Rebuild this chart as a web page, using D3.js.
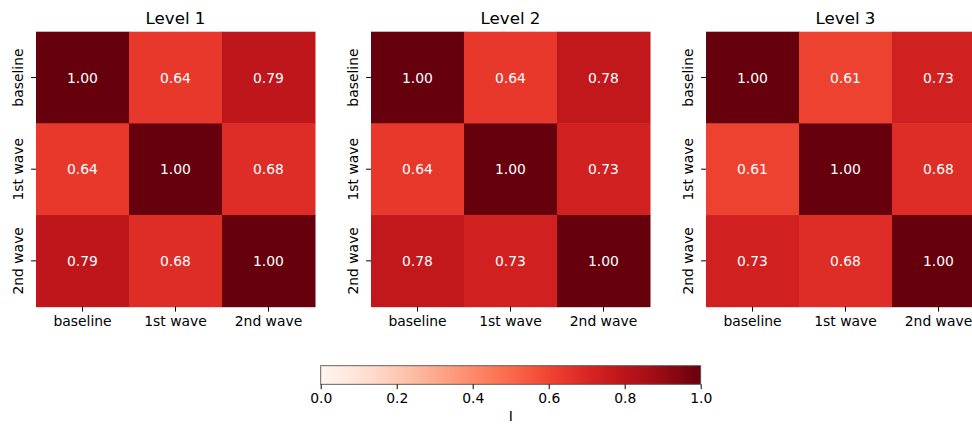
<!DOCTYPE html>
<html>
<head>
<meta charset="utf-8">
<script src="https://cdn.jsdelivr.net/npm/d3@7"></script>
<style>
  body { margin: 0; background: #fff; }
  svg { display: block; font-family: "DejaVu Sans", sans-serif; }
</style>
</head>
<body>
<svg id="chart" width="972" height="425"></svg>
<script>
const waves = ["baseline", "1st wave", "2nd wave"];
const levels = ["Level 1", "Level 2", "Level 3"];
const level1 = [[1.00, 0.64, 0.79], [0.64, 1.00, 0.68], [0.79, 0.68, 1.00]];
const level2 = [[1.00, 0.64, 0.78], [0.64, 1.00, 0.73], [0.78, 0.73, 1.00]];
const level3 = [[1.00, 0.61, 0.73], [0.61, 1.00, 0.68], [0.73, 0.68, 1.00]];
const matrices = [level1, level2, level3];
const cbarTicks = [0, 0.2, 0.4, 0.6, 0.8, 1.0];
const cbarLabel = "I";

const svg = d3.select("#chart");
const color = d3.scaleSequential(d3.interpolateReds).domain([0, 1]);

const panelLeft = [36, 371, 706];
const panelW = 279, panelH = 275, panelTop = 31.7;

matrices.forEach((m, k) => {
  const g = svg.append("g").attr("transform", `translate(${panelLeft[k]},${panelTop})`);
  const x = d3.scaleBand().domain(waves).range([0, panelW]);
  const y = d3.scaleBand().domain(waves).range([0, panelH]);

  const cells = [];
  m.forEach((row, i) => row.forEach((v, j) => cells.push({ r: waves[i], c: waves[j], v })));

  g.selectAll("rect")
    .data(cells)
    .enter()
    .append("rect")
    .attr("x", (d) => x(d.c))
    .attr("y", (d) => y(d.r))
    .attr("width", x.bandwidth() + 0.5)
    .attr("height", y.bandwidth() + 0.5)
    .attr("fill", (d) => color(d.v));

  g.selectAll(".annot")
    .data(cells)
    .enter()
    .append("text")
    .attr("class", "annot")
    .attr("x", (d) => x(d.c) + x.bandwidth() / 2)
    .attr("y", (d) => y(d.r) + y.bandwidth() / 2)
    .attr("text-anchor", "middle")
    .attr("dy", "0.36em")
    .attr("fill", "#fff")
    .style("font-size", "13.9px")
    .text((d) => d.v.toFixed(2));

  const xAxis = g.append("g")
    .attr("transform", `translate(0,${panelH})`)
    .call(d3.axisBottom(x).tickSize(4.9).tickPadding(4.5));
  xAxis.select(".domain").remove();
  xAxis.selectAll("text").style("font-size", "13.9px").attr("fill", "#000")
    .style("font-family", "DejaVu Sans");

  const yAxis = g.append("g").call(d3.axisLeft(y).tickSize(4.9).tickPadding(0));
  yAxis.select(".domain").remove();
  yAxis.selectAll("text")
    .style("font-size", "13.9px")
    .style("font-family", "DejaVu Sans")
    .attr("fill", "#000")
    .attr("x", null)
    .attr("dy", null)
    .attr("text-anchor", "middle")
    .attr("transform", "translate(-13,0) rotate(-90)");

  g.append("text")
    .attr("x", panelW / 2)
    .attr("y", -8)
    .attr("text-anchor", "middle")
    .style("font-size", "16.7px")
    .text(levels[k]);
});

// colorbar
const cb = { x: 320.7, y: 365.7, w: 380, h: 18.6 };
const cx = d3.scaleLinear().domain([0, 1]).range([cb.x, cb.x + cb.w]);
const defs = svg.append("defs");
const grad = defs.append("linearGradient").attr("id", "cbgrad");
d3.range(0, 1.0001, 0.05).forEach((t) => {
  grad.append("stop").attr("offset", `${t * 100}%`).attr("stop-color", color(t));
});
svg.append("rect")
  .attr("x", cb.x).attr("y", cb.y).attr("width", cb.w).attr("height", cb.h)
  .attr("fill", "url(#cbgrad)")
  .attr("stroke", "#555").attr("stroke-width", 0.9);

const cAxis = svg.append("g")
  .attr("transform", `translate(0,${cb.y + cb.h})`)
  .call(d3.axisBottom(cx).tickValues(cbarTicks).tickFormat(d3.format(".1f")).tickSize(4.9).tickPadding(3.5));
cAxis.select(".domain").remove();
cAxis.selectAll("text").style("font-size", "13.9px").style("font-family", "DejaVu Sans").attr("fill", "#000");

svg.append("text")
  .attr("x", cx(0.5))
  .attr("y", 421)
  .attr("text-anchor", "middle")
  .style("font-size", "13.9px")
  .text(cbarLabel);
</script>
</body>
</html>
